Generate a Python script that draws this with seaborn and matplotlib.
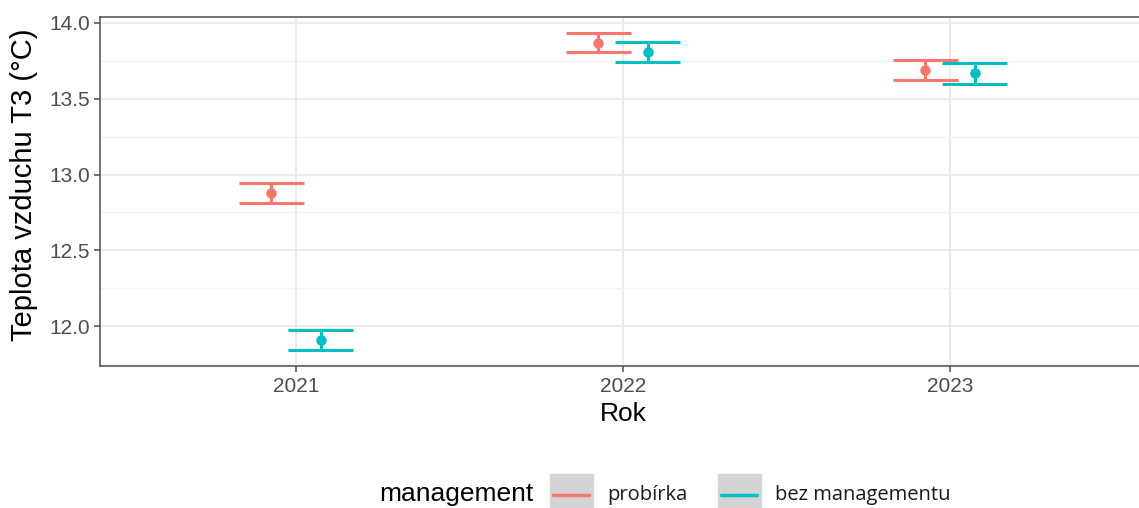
import numpy as np
import pandas as pd
import matplotlib
matplotlib.use("Agg")
import matplotlib.pyplot as plt
import seaborn as sns
from matplotlib.patches import Rectangle
from matplotlib.lines import Line2D
from matplotlib.ticker import MultipleLocator

# data (mean and interval ends per year)
years = ["2021", "2022", "2023"]
groups = ["probírka", "bez managementu"]
colors = ["#F8766D", "#00BFC4"]

mean_probirka = [12.877, 13.868, 13.686]
low_probirka = [12.809, 13.805, 13.621]
high_probirka = [12.943, 13.934, 13.755]

mean_bez = [11.910, 13.807, 13.667]
low_bez = [11.842, 13.741, 13.595]
high_bez = [11.977, 13.873, 13.737]

W, H = 1139, 508
DODGE = 0.15
CAP = 0.1

sns.set_theme(style="white")
plt.rcParams["font.family"] = ["Liberation Sans", "DejaVu Sans"]

df = pd.DataFrame({
    "Rok": years * 2,
    "teplota": mean_probirka + mean_bez,
    "low": low_probirka + low_bez,
    "high": high_probirka + high_bez,
    "management": [groups[0]] * 3 + [groups[1]] * 3,
})

fig = plt.figure(figsize=(W / 100, H / 100), dpi=100)
ax = fig.add_axes([99.8 / W, 1 - 366 / H, 1046.4 / W, 349 / H])

# error bars (stems + caps) at the dodged category positions
offsets = np.arange(len(groups)) * DODGE / (len(groups) - 1)
offsets = offsets - offsets.mean()
for gi, g in enumerate(groups):
    sub = df[df["management"] == g]
    xs = np.arange(len(years)) + offsets[gi]
    ax.vlines(xs, sub["low"], sub["high"], color=colors[gi], lw=2.2, zorder=3)
    ax.hlines(sub["low"], xs - CAP, xs + CAP, color=colors[gi], lw=2.2, zorder=3)
    ax.hlines(sub["high"], xs - CAP, xs + CAP, color=colors[gi], lw=2.2, zorder=3)

sns.pointplot(data=df, x="Rok", y="teplota", hue="management", hue_order=groups,
              order=years, palette=colors, dodge=DODGE, linestyle="none",
              errorbar=None, markers="o", markersize=5.5, legend=False, ax=ax, zorder=4)

lo = min(low_probirka + low_bez)
hi = max(high_probirka + high_bez)
pad = 0.05 * (hi - lo)
ax.set_ylim(lo - pad, hi + pad)
ax.set_xlim(-0.6, len(years) - 0.4)

ax.yaxis.set_major_locator(MultipleLocator(0.5))
ax.yaxis.set_minor_locator(MultipleLocator(0.25))
ax.yaxis.set_major_formatter(matplotlib.ticker.FormatStrFormatter("%.1f"))
ax.grid(which="major", color="#EBEBEB", lw=1.4, zorder=0)
ax.grid(which="minor", axis="y", color="#F2F2F2", lw=0.9, zorder=0)
ax.set_axisbelow(True)

for s in ax.spines.values():
    s.set_color("#4D4D4D")
    s.set_linewidth(1.1)

ax.tick_params(axis="both", which="major", length=4, width=1.1, color="#4D4D4D",
               labelcolor="#4D4D4D", labelsize=15, left=True, bottom=True)
ax.tick_params(axis="y", which="minor", length=0)
ax.tick_params(axis="y", pad=3)
ax.tick_params(axis="x", pad=4)

ax.set_ylabel("Teplota vzduchu T3 (°C)", fontsize=21, color="black")
ax.yaxis.set_label_coords((38 - 99.8) / 1046.4, (366 - 185) / 349)
ax.set_xlabel("Rok", fontsize=19, color="black")
ax.xaxis.set_label_coords(0.5, (366 - 402) / 349)

# legend at the bottom, ggplot style with grey key boxes
fig.text(533 / W, 1 - 501 / H, "management", fontsize=19, ha="right",
         va="baseline", color="black")
key_x = [550, 718]
label_x = [607, 775]
for gi, g in enumerate(groups):
    fig.patches.append(Rectangle((key_x[gi] / W, 0), 43 / W, 34 / H,
                                 transform=fig.transFigure, color="#D4D4D4", zorder=1))
    fig.lines.append(Line2D([(key_x[gi] + 3) / W, (key_x[gi] + 39) / W],
                            [1 - 495 / H, 1 - 495 / H], transform=fig.transFigure,
                            color=colors[gi], lw=2.5, zorder=2))
    fig.text(label_x[gi] / W, 1 - 500 / H, g, fontsize=14.5, family="Open Sans",
             ha="left", va="baseline", color="#1A1A1A")

fig.savefig("out.png", dpi=100)
